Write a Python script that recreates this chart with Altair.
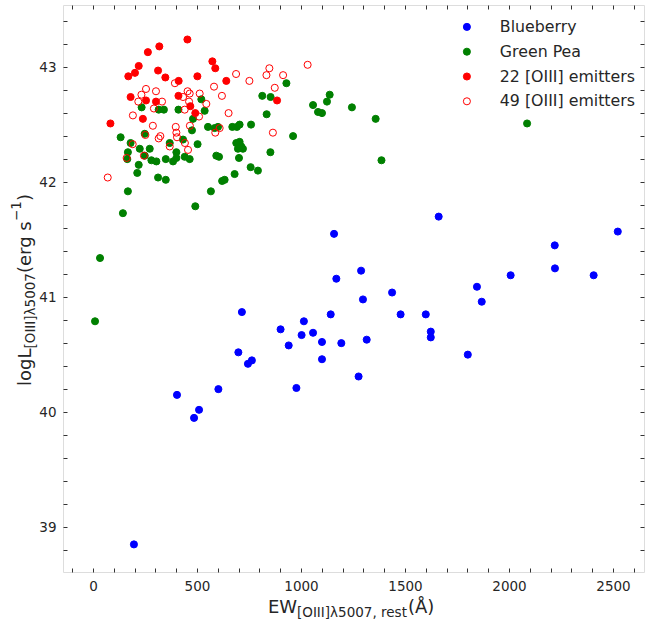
import altair as alt
import pandas as pd

# ---------------- data ----------------
groups = ["Blueberry", "Green Pea", "22 [OIII] emitters", "49 [OIII] emitters"]

blue_ew = [197, 404, 486, 510, 603, 978, 699, 716, 745, 764, 902, 941, 1003, 1014,
           1058, 1101, 1101, 1143, 1159, 1170, 1194, 1277, 1289, 1298, 1316, 1438,
           1479, 1600, 1624, 1624, 1662, 1802, 1846, 1869, 2008, 2220, 2221, 2407, 2523]
blue_l = [38.85, 40.15, 39.95, 40.02, 40.20, 40.21, 40.52, 40.87, 40.42, 40.45, 40.72,
          40.58, 40.67, 40.79, 40.69, 40.61, 40.46, 40.85, 41.55, 41.16, 40.60, 40.31,
          41.23, 40.98, 40.63, 41.04, 40.85, 40.85, 40.70, 40.65, 41.70, 40.50, 41.09,
          40.96, 41.19, 41.45, 41.25, 41.19, 41.57]

green_ew = [10, 34, 144, 168, 313, 350, 492, 567, 621, 633, 681, 758, 793, 702, 593, 606,
            689, 705, 713, 721, 697, 670, 705, 692, 760, 553, 585, 601, 476, 481, 521, 537,
            411, 234, 316, 341, 503, 433, 369, 133, 249, 181, 168, 225, 273, 249, 165, 220,
            213, 305, 350, 385, 401, 401, 441, 465, 281, 930, 1138, 814, 854, 1125, 1058,
            1082, 1101, 1245, 1359, 835, 962, 853, 1387, 2087]
green_l = [40.79, 41.34, 41.73, 41.92, 42.04, 42.02, 41.79, 41.92, 42.01, 42.02, 42.07,
           42.13, 42.10, 42.21, 42.23, 42.22, 42.34, 42.35, 42.31, 42.29, 42.29, 42.48,
           42.50, 42.48, 42.50, 42.48, 42.47, 42.48, 42.45, 42.55, 42.72, 42.62, 42.63,
           42.65, 42.63, 42.63, 42.33, 42.37, 42.34, 42.39, 42.42, 42.34, 42.26, 42.29,
           42.29, 42.23, 42.20, 42.15, 42.08, 42.18, 42.20, 42.18, 42.21, 42.26, 42.22,
           42.20, 42.19, 42.86, 42.76, 42.75, 42.74, 42.70, 42.67, 42.61, 42.60, 42.65,
           42.55, 42.59, 42.40, 42.26, 42.19, 42.51]

red_ew = [454, 319, 264, 220, 202, 170, 313, 348, 412, 502, 574, 588, 641, 181, 255, 303,
          411, 468, 492, 240, 84, 885]
red_l = [43.24, 43.18, 43.13, 43.01, 42.95, 42.92, 42.97, 42.91, 42.88, 42.92, 43.05,
         42.99, 42.88, 42.74, 42.71, 42.70, 42.75, 42.66, 42.60, 42.55, 42.51, 42.71]

open_ew = [688, 752, 582, 620, 394, 255, 303, 233, 218, 332, 293, 455, 465, 513, 462, 441,
           545, 652, 510, 192, 466, 288, 398, 401, 404, 324, 316, 252, 609, 588, 191, 369,
           442, 457, 245, 162, 71, 848, 834, 914, 1032, 874, 865, 433]
open_l = [42.94, 42.88, 42.83, 42.75, 42.86, 42.81, 42.79, 42.76, 42.70, 42.70, 42.64,
          42.79, 42.77, 42.77, 42.70, 42.63, 42.68, 42.60, 42.57, 42.58, 42.49, 42.49,
          42.48, 42.43, 42.39, 42.40, 42.38, 42.41, 42.47, 42.43, 42.33, 42.31, 42.34,
          42.28, 42.23, 42.21, 42.04, 42.99, 42.93, 42.93, 43.02, 42.82, 42.43, 42.74]

x_ticks = list(range(-100, 2700, 100))
y_ticks = [round(38.8 + 0.2 * i, 1) for i in range(24)]

stroke_colors = ["#0000ff", "#008000", "#ff0000", "#ff0000"]
fill_colors = ["#0000ff", "#008000", "#ff0000", "transparent"]

frames = []
for g, ew, lum in zip(groups, [blue_ew, green_ew, red_ew, open_ew],
                      [blue_l, green_l, red_l, open_l]):
    frames.append(pd.DataFrame({"ew": ew, "logL": lum, "group": g}))
df = pd.concat(frames, ignore_index=True)

# ---------------- layout ----------------
W, H = 581, 567
FONT = "DejaVu Sans"
TXT = "#262626"
xdom = [-144, 2649]
ydom = [38.61, 43.54]

xscale = alt.Scale(domain=xdom, nice=False, zero=False)
yscale = alt.Scale(domain=ydom, nice=False, zero=False)

tick_in = {"expr": "-4"}

x_axis = alt.Axis(values=x_ticks, title=None, grid=False, domain=False,
                  labelExpr="datum.value % 500 == 0 ? format(datum.value, 'd') : ''",
                  tickSize=tick_in, tickColor="#333333", labelPadding=11,
                  labelFont=FONT, labelFontSize=13.5, labelColor=TXT,
                  labelOverlap=False, labelFlush=False)
y_axis = alt.Axis(values=y_ticks, title=None, grid=False, domain=False,
                  labelExpr="abs(datum.value - round(datum.value)) < 0.001 ? format(datum.value, 'd') : ''",
                  tickSize=tick_in, tickColor="#333333", labelPadding=11,
                  labelFont=FONT, labelFontSize=13.5, labelColor=TXT,
                  labelOverlap=False, labelFlush=False)

legend = alt.Legend(title=None, orient="none", legendX=396, legendY=14,
                    labelFont=FONT, labelFontSize=15.8, labelColor=TXT,
                    symbolSize=50, symbolStrokeWidth=1, rowPadding=7.8,
                    labelOffset=25, padding=0)

points = alt.Chart(df).mark_circle(size=50, strokeWidth=1, opacity=1).encode(
    x=alt.X("ew:Q", scale=xscale, axis=x_axis),
    y=alt.Y("logL:Q", scale=yscale, axis=y_axis),
    fill=alt.Fill("group:N", scale=alt.Scale(domain=groups, range=fill_colors), legend=legend),
    stroke=alt.Stroke("group:N", scale=alt.Scale(domain=groups, range=stroke_colors), legend=legend),
)

# mirrored ticks on top and right
mirror = alt.Chart(df).mark_point(opacity=0).encode(
    x=alt.X("ew:Q", scale=xscale,
            axis=alt.Axis(orient="top", values=x_ticks, labels=False, title=None, grid=False,
                          domain=False, tickSize=tick_in, tickColor="#333333")),
    y=alt.Y("logL:Q", scale=yscale,
            axis=alt.Axis(orient="right", values=y_ticks, labels=False, title=None, grid=False,
                          domain=False, tickSize=tick_in, tickColor="#333333")),
)

one = pd.DataFrame({"k": [0]})


def piece(text, x, y, size, angle=0):
    return alt.Chart(one).mark_text(
        text=text, font=FONT, fontSize=size, color=TXT, align="left",
        baseline="alphabetic", angle=angle
    ).encode(x=alt.value(x), y=alt.value(y))


# x-axis title: EW_[OIII]λ5007, rest (Å)
xt = [
    piece("EW", 205, 608, 18),
    piece("[OIII]λ5007, rest", 234, 611.5, 13.5),
    piece("(Å)", 345, 608, 18),
]
# y-axis title: logL_[OIII]λ5007 (erg s^-1)
yt = [
    piece("logL", -32, 381, 18, 270),
    piece("[OIII]λ5007", -28.5, 343.5, 13.5, 270),
    piece("(erg s", -32, 268, 18, 270),
    piece("−1", -42, 216, 13.5, 270),
    piece(")", -32, 196, 18, 270),
]

chart = alt.layer(points, mirror, *xt, *yt).resolve_scale(
    x="independent", y="independent"
).properties(
    width=W, height=H,
    padding={"left": 63, "top": 5, "right": 21, "bottom": 50},
    autosize=alt.AutoSizeParams(type="none"),
).configure_view(stroke="#444444", strokeWidth=1.2).configure(background="white")

chart.save("out.html", embed_options={"renderer": "svg", "actions": False})
